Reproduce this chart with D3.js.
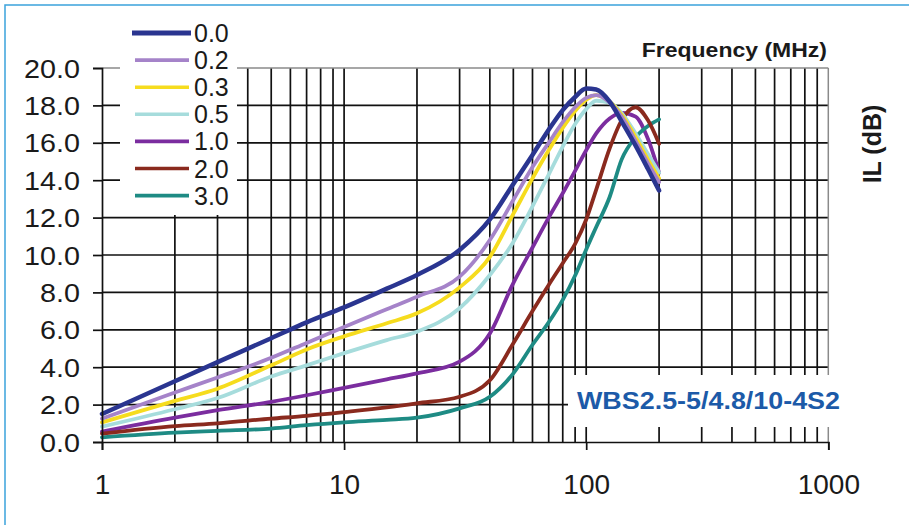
<!DOCTYPE html>
<html>
<head>
<meta charset="utf-8">
<script src="https://cdn.jsdelivr.net/npm/d3@7/dist/d3.min.js"></script>
<style>
  html, body { margin: 0; padding: 0; background: #ffffff; }
  svg { display: block; font-family: "Liberation Sans", Arial, Helvetica, sans-serif; }
</style>
</head>
<body>
<svg id="chart" width="909" height="525"></svg>
<script>
// ---------------- data ----------------
const freqs = [1, 2, 3, 5, 7, 10, 15, 20, 30, 40, 50, 60, 70, 80, 90, 100, 110, 125, 140, 160, 180, 200];
const seriesNames = ["0.0", "0.2", "0.3", "0.5", "1.0", "2.0", "3.0"];
const il_0_0 = [1.5, 3.25, 4.27, 5.55, 6.4, 7.2, 8.2, 8.93, 10.27, 11.9, 13.8, 15.35, 16.7, 17.75, 18.45, 18.9, 18.85, 18.2, 17.15, 15.85, 14.6, 13.45];
const il_0_2 = [1.25, 2.65, 3.45, 4.5, 5.3, 6.15, 7.1, 7.77, 8.84, 10.8, 12.94, 14.7, 16.0, 17.1, 17.9, 18.4, 18.55, 18.15, 17.4, 16.1, 14.9, 13.9];
const il_0_3 = [1.05, 2.2, 2.85, 4.1, 4.95, 5.65, 6.35, 6.88, 8.27, 9.9, 12.2, 14.1, 15.6, 16.8, 17.7, 18.3, 18.55, 18.2, 17.5, 16.3, 15.1, 14.1];
const il_0_5 = [0.82, 1.75, 2.35, 3.5, 4.1, 4.75, 5.45, 5.9, 7.15, 8.93, 10.7, 12.6, 14.3, 15.8, 17.0, 17.8, 18.25, 18.15, 17.6, 16.5, 15.4, 14.4];
const il_1_0 = [0.55, 1.3, 1.7, 2.15, 2.5, 2.9, 3.35, 3.67, 4.3, 5.8, 8.5, 10.4, 12.0, 13.3, 14.5, 15.6, 16.5, 17.3, 17.6, 17.4, 16.2, 14.4];
const il_2_0 = [0.45, 0.85, 1.0, 1.25, 1.4, 1.6, 1.85, 2.07, 2.42, 3.3, 5.28, 7.0, 8.4, 9.56, 10.6, 11.9, 13.5, 15.7, 17.2, 17.9, 17.2, 15.95];
const il_3_0 = [0.25, 0.5, 0.6, 0.72, 0.9, 1.05, 1.18, 1.3, 1.8, 2.42, 3.67, 5.2, 6.4, 7.6, 8.9, 10.3, 11.5, 13.1, 15.1, 16.3, 16.9, 17.25];
const seriesValues = [il_0_0, il_0_2, il_0_3, il_0_5, il_1_0, il_2_0, il_3_0];
const seriesColors = ["#2a3590", "#a583c9", "#f6dc1e", "#a6dcdc", "#7b2d9f", "#8a2a1e", "#1e8b84"];
const xTickLabels = [1, 10, 100, 1000];
const yTickValues = [0, 2, 4, 6, 8, 10, 12, 14, 16, 18, 20];
const xTitle = "Frequency (MHz)";
const yTitle = "IL (dB)";
const partLabel = "WBS2.5-5/4.8/10-4S2";

// ---------------- layout ----------------
const svg = d3.select("#chart");
const x = d3.scaleLog().domain([1, 1000]).range([102, 828.3]);
const y = d3.scaleLinear().domain([0, 20]).range([442, 68]);
const gridColor = "#111";

// outer light-blue frame
svg.append("rect").attr("x", 5).attr("y", 5).attr("width", 960).attr("height", 600)
  .attr("fill", "none").attr("stroke", "#3ba3dc").attr("stroke-width", 1.5);

// grid values (log decades)
const gridX = [];
[1, 10, 100].forEach(d => { for (let k = 2; k <= 9; k++) gridX.push(d * k); });
gridX.push(10, 100);

const grid = svg.append("g");
grid.selectAll("line.v").data(gridX).join("line")
  .attr("x1", d => x(d)).attr("x2", d => x(d))
  .attr("y1", y(20)).attr("y2", y(0))
  .attr("stroke", gridColor).attr("stroke-width", 1.7);
grid.selectAll("line.h").data(yTickValues.filter(v => v > 0 && v < 20)).join("line")
  .attr("x1", x(1)).attr("x2", x(1000))
  .attr("y1", d => y(d)).attr("y2", d => y(d))
  .attr("stroke", gridColor).attr("stroke-width", 1.7);
// top & right frame (grey)
grid.append("line").attr("x1", x(1)).attr("x2", x(1000)).attr("y1", y(20)).attr("y2", y(20))
  .attr("stroke", "#8a8a8a").attr("stroke-width", 1.5);
grid.append("line").attr("x1", x(1000)).attr("x2", x(1000)).attr("y1", y(20)).attr("y2", y(0))
  .attr("stroke", "#8a8a8a").attr("stroke-width", 1.5);

// ---------------- curves ----------------
const line = d3.line()
  .x(d => x(d[0])).y(d => y(d[1]))
  .curve(d3.curveMonotoneX);
const drawOrder = [4, 6, 5, 3, 2, 1, 0];
const curves = svg.append("g");
drawOrder.forEach(i => {
  curves.append("path")
    .datum(freqs.map((f, j) => [f, seriesValues[i][j]]))
    .attr("d", line)
    .attr("fill", "none")
    .attr("stroke", seriesColors[i])
    .attr("stroke-width", i === 0 ? 4.5 : 3.8)
    .attr("stroke-linejoin", "round").attr("stroke-linecap", "round");
});

// ---------------- white boxes (legend & label) ----------------
svg.append("rect").attr("x", 120).attr("y", 12).attr("width", 117).attr("height", 203).attr("fill", "#fff");
svg.append("rect").attr("x", 568).attr("y", 375).attr("width", 272).attr("height", 52).attr("fill", "#fff");

// ---------------- axes ----------------
const yAxis = svg.append("g").attr("transform", `translate(${x(1)},0)`)
  .call(d3.axisLeft(y).tickValues(yTickValues).tickSize(9).tickPadding(13).tickFormat(d3.format(".1f")));
yAxis.select(".domain").attr("stroke", gridColor).attr("stroke-width", 1.7);
yAxis.selectAll(".tick line").attr("stroke", gridColor).attr("stroke-width", 1.7);
yAxis.selectAll(".tick text")
  .attr("font-size", 25).attr("fill", "#1a1a1a")
  .attr("font-family", "'Liberation Sans', Arial, sans-serif")
  .attr("x", -22 / 1.15).attr("dy", "0.36em")
  .attr("transform", "scale(1.15,1)");

const xAxis = svg.append("g").attr("transform", `translate(0,${y(0)})`)
  .call(d3.axisBottom(x).tickValues(xTickLabels).tickSize(8).tickFormat(d3.format("d")));
xAxis.select(".domain").attr("stroke", gridColor).attr("stroke-width", 1.7);
xAxis.selectAll(".tick line").attr("stroke", gridColor).attr("stroke-width", 1.7);
xAxis.selectAll(".tick text")
  .attr("font-size", 28).attr("fill", "#1a1a1a")
  .attr("font-family", "'Liberation Sans', Arial, sans-serif")
  .attr("y", 52).attr("dy", 0);

// ---------------- titles ----------------
svg.append("text").attr("transform", "translate(827,57) scale(1.15,1)")
  .attr("text-anchor", "end").attr("font-size", 20).attr("font-weight", "bold").attr("fill", "#1a1a1a")
  .text(xTitle);
svg.append("text").attr("transform", "translate(881,144) rotate(-90)")
  .attr("text-anchor", "middle").attr("font-size", 25).attr("font-weight", "bold").attr("fill", "#1a1a1a")
  .text(yTitle);
svg.append("text").attr("x", 577).attr("y", 409)
  .attr("font-size", 24).attr("font-weight", "bold").attr("fill", "#1c5aa8")
  .attr("textLength", 263).attr("lengthAdjust", "spacingAndGlyphs")
  .text(partLabel);

// ---------------- legend ----------------
const legend = svg.append("g");
seriesNames.forEach((name, i) => {
  const ly = 33 + i * 27.1;
  legend.append("line")
    .attr("x1", i === 0 ? 132 : 135).attr("x2", i === 0 ? 191 : 189)
    .attr("y1", ly).attr("y2", ly)
    .attr("stroke", seriesColors[i]).attr("stroke-width", i === 0 ? 5 : 3.6);
  legend.append("text").attr("x", 194).attr("y", ly + 9)
    .attr("font-size", 25).attr("fill", "#1a1a1a").text(name);
});
</script>
</body>
</html>
